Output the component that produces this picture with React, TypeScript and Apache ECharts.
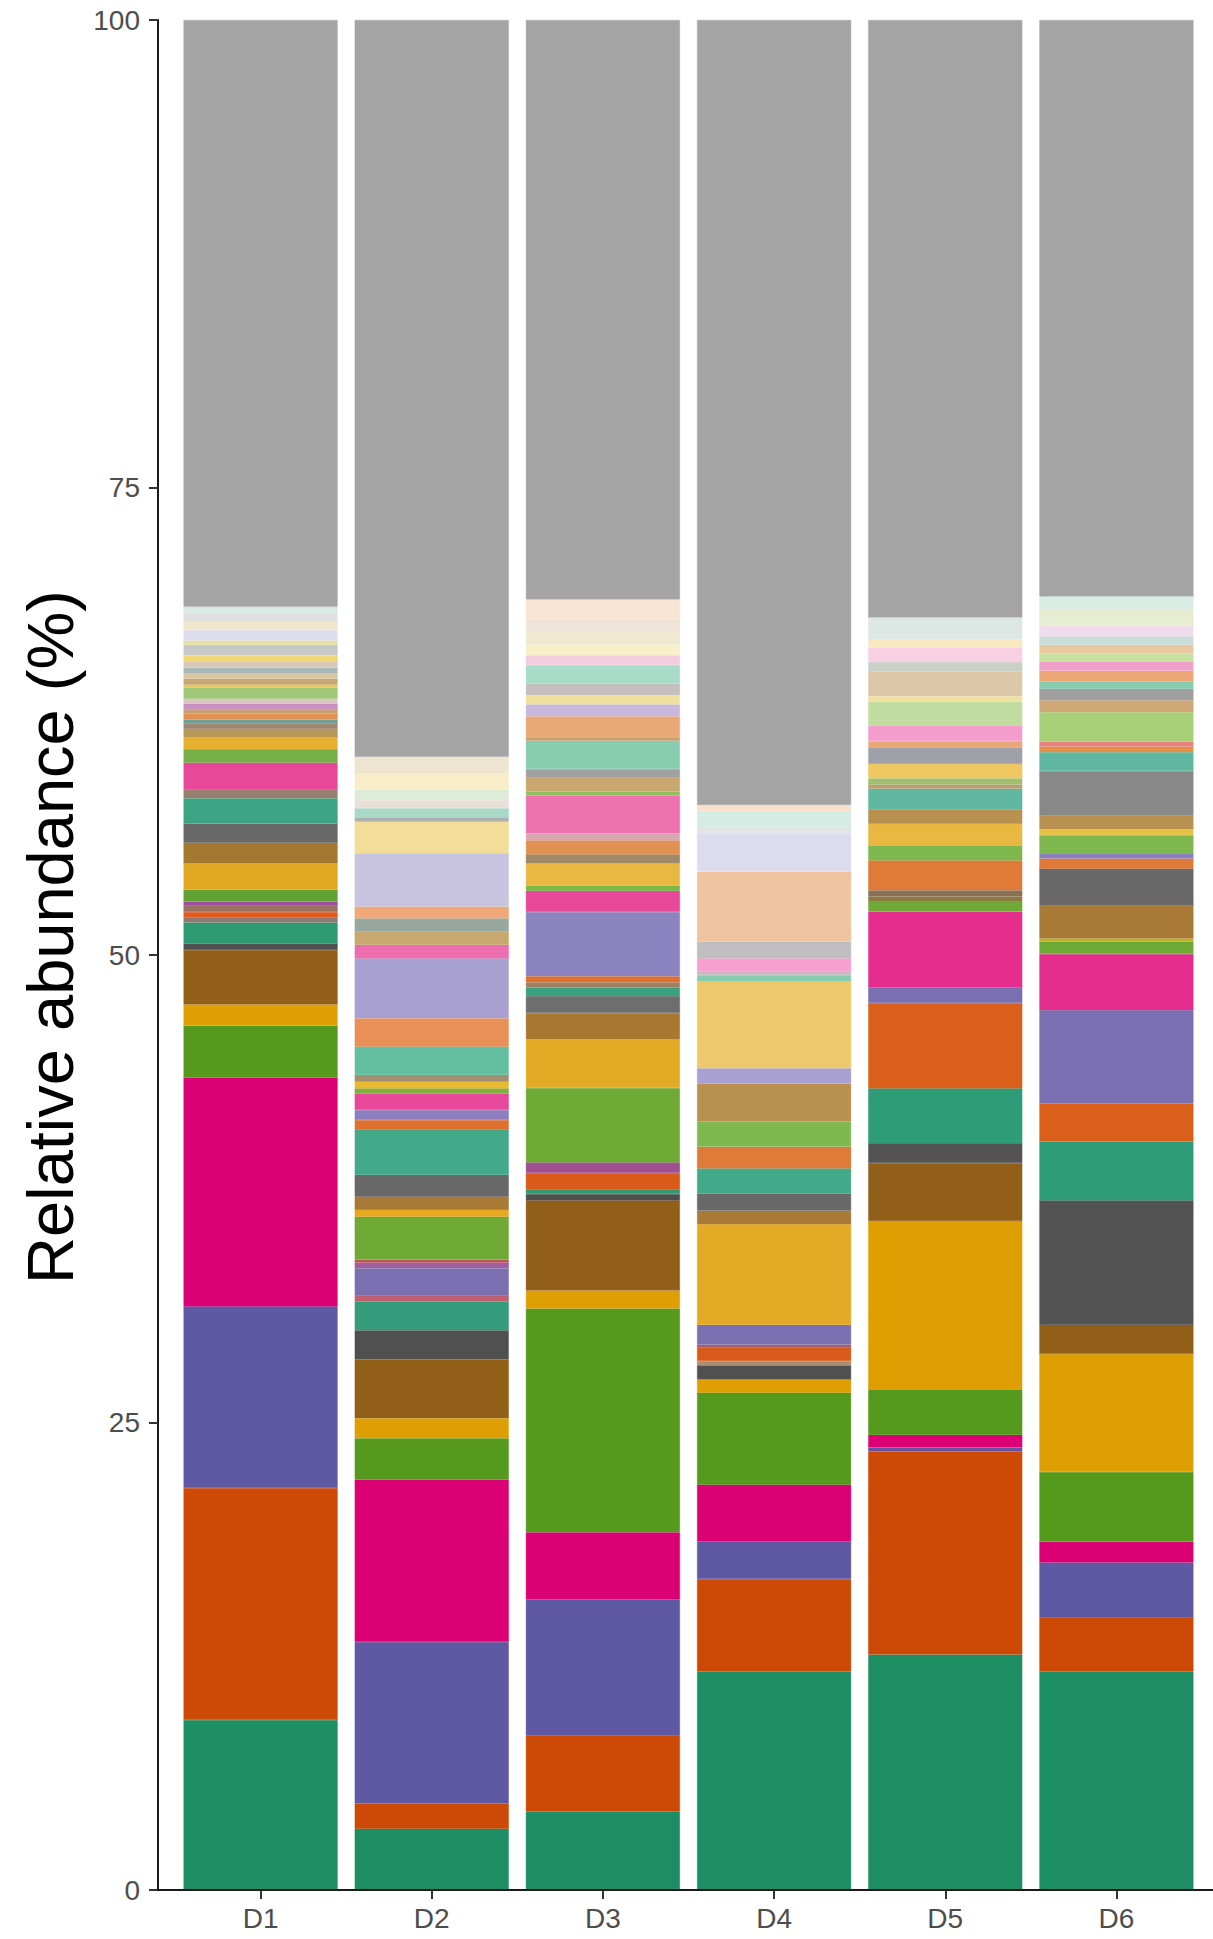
import React, { useEffect, useRef } from "react";
import * as echarts from "echarts";

const CATEGORIES = ["D1", "D2", "D3", "D4", "D5", "D6"];
const Y_TICKS = [0, 25, 50, 75, 100];
const Y_TITLE = "Relative abundance (%)";
const OTHERS = "#A4A4A4";

// Cumulative top of each stacked segment, bottom to top (percent), with its fill
const D1_TOPS = [9.09, 21.5, 31.21, 43.45, 46.22, 47.35, 50.27, 50.61, 51.74, 52.01, 52.3, 52.64, 52.86, 53.49, 54.89, 56.01, 57.03, 58.38, 58.83, 60.29, 61.01, 61.64, 62.09, 62.36, 62.59, 62.93, 63.11, 63.44, 63.71, 64.3, 64.46, 64.79, 65.06, 65.36, 65.69, 66.03, 66.59, 66.82, 67.38, 67.83, 68.28, 68.62, 100];
const D1_COLORS = ["#1D8E64", "#CC4A06", "#5F58A2", "#DC0075", "#559A1C", "#DF9F03", "#925F18", "#505050", "#2E9A72", "#907A70", "#E05A20", "#9A7060", "#A04FA0", "#62A232", "#E2A822", "#A47830", "#686868", "#3CA482", "#988070", "#E8489A", "#78B048", "#E8B030", "#B89858", "#A08870", "#70A098", "#E09050", "#C8A070", "#C890C0", "#D8C8C0", "#A0C878", "#E8C860", "#C8A878", "#D8C8A0", "#A8B8B8", "#D8C8B8", "#F0D878", "#C8C8C8", "#E8E0A0", "#DDDDEE", "#F2E6CC", "#E0E0E0", "#D9EBE3", OTHERS];

const D2_TOPS = [3.28, 4.61, 13.26, 21.95, 24.16, 25.23, 28.38, 29.93, 31.48, 31.77, 33.25, 33.54, 33.7, 36.01, 36.37, 37.08, 38.24, 40.65, 41.18, 41.71, 42.61, 42.87, 43.23, 43.59, 45.1, 46.62, 49.82, 50.54, 51.25, 51.96, 52.59, 55.44, 57.13, 57.36, 57.85, 58.29, 58.83, 59.72, 60.61, 100];
const D2_COLORS = ["#1D8E64", "#CC4A06", "#5F58A2", "#DC0075", "#559A1C", "#DF9F03", "#925F18", "#505050", "#349C7A", "#C06070", "#7A6FB0", "#A060A0", "#C05060", "#6EAA35", "#E8A820", "#A87A35", "#686868", "#42AA88", "#E07030", "#8C7EC0", "#E8489A", "#80B040", "#E8B830", "#A09070", "#62C0A0", "#E89058", "#A8A0D0", "#EC6EAE", "#C8A870", "#98A8A0", "#F0A878", "#C8C4E0", "#F2DE98", "#B0B0B0", "#A8D8C8", "#E8E0D8", "#DCEBD8", "#F8EDC8", "#EDE5D0", OTHERS];

const D3_TOPS = [4.21, 8.27, 15.52, 19.13, 31.1, 32.06, 36.88, 37.22, 37.44, 38.34, 38.91, 42.89, 45.48, 46.9, 47.8, 48.25, 48.54, 48.86, 52.3, 53.43, 53.72, 54.89, 55.38, 56.13, 56.51, 58.53, 58.76, 59.5, 59.95, 61.46, 61.64, 62.77, 63.4, 63.89, 64.52, 65.51, 66.03, 66.59, 67.27, 67.94, 69.02, 100];
const D3_COLORS = ["#1D8E64", "#CC4A06", "#5F58A2", "#DC0075", "#559A1C", "#DF9F03", "#925F18", "#505050", "#2E9A72", "#DA5A1A", "#A05090", "#6EAA35", "#E3AB25", "#A87830", "#6E6E6E", "#3AA080", "#A08060", "#E07030", "#8C84C0", "#E8489A", "#7CB848", "#E8B840", "#A08868", "#E09050", "#D8A8B0", "#EE72B0", "#90C060", "#C8A870", "#A0A0A0", "#88CCB0", "#C8A070", "#E8A878", "#C8B8E0", "#F0E0A0", "#C4C0C0", "#A8DCC8", "#F4CCE0", "#F8F0C8", "#F0E8D0", "#EEE4D8", "#F8E4D4", OTHERS];

const D4_TOPS = [11.7, 16.63, 18.62, 21.68, 26.6, 27.3, 28.06, 28.29, 28.99, 29.17, 30.22, 35.61, 36.32, 37.25, 38.59, 39.75, 41.08, 43.13, 43.94, 48.57, 48.93, 49.11, 49.82, 50.71, 54.45, 56.5, 56.86, 57.66, 58.02, 100];
const D4_COLORS = ["#1D8E64", "#CC4A06", "#5F58A2", "#DC0075", "#559A1C", "#DF9F03", "#505050", "#A89070", "#DA5A1A", "#A06070", "#7A6FB0", "#E3AB25", "#A87A35", "#686868", "#42AA88", "#E07A38", "#80B850", "#B89050", "#A8A0D0", "#EEC86C", "#88CCB0", "#C8B8C0", "#F6A0D0", "#C0BEC0", "#F0C4A0", "#DCDCEE", "#E4E4E8", "#D4ECE4", "#F8E0CC", OTHERS];

const D5_TOPS = [12.59, 23.45, 23.68, 24.34, 26.78, 35.78, 38.88, 39.94, 42.87, 47.43, 48.25, 52.31, 52.84, 53.13, 53.46, 55.06, 55.86, 57.01, 57.79, 58.89, 59.12, 59.45, 60.22, 61.11, 61.44, 62.29, 63.55, 63.84, 65.17, 65.66, 66.43, 66.87, 68.05, 100];
const D5_COLORS = ["#1D8E64", "#CC4A06", "#6A50A0", "#DC0075", "#559A1C", "#DF9F03", "#925F18", "#535353", "#2E9C76", "#D95F1A", "#7A6FB0", "#E42D8C", "#6EAA35", "#8A7A40", "#8A7055", "#E07A38", "#80B850", "#E8B840", "#B89050", "#60B8A0", "#B8A070", "#A0C070", "#F0C860", "#A0A0A8", "#E8A878", "#F49CCC", "#C0DCA0", "#F0E0A0", "#DCC8A8", "#C8D0C8", "#F8D0E4", "#F8E8C0", "#DDE8E4", OTHERS];

const D6_TOPS = [11.7, 14.59, 17.51, 18.62, 22.35, 28.66, 30.22, 36.88, 40.03, 42.06, 47.05, 50.05, 50.72, 50.88, 52.64, 54.62, 55.16, 55.45, 56.42, 56.73, 57.48, 59.84, 60.85, 61.15, 61.42, 62.99, 63.62, 64.23, 64.61, 65.2, 65.69, 66.14, 66.59, 67.04, 67.61, 68.51, 69.18, 100];
const D6_COLORS = ["#1D8E64", "#CC4A06", "#5F58A2", "#DC0075", "#559A1C", "#DF9F03", "#925F18", "#535353", "#2E9C76", "#D95F1A", "#7A6FB0", "#E42D8C", "#6EAA35", "#C0B020", "#A87A35", "#686868", "#E07A38", "#8C7EC0", "#80B850", "#E8C040", "#B89050", "#888888", "#60B8A0", "#E89048", "#E88080", "#A8D078", "#D0A878", "#A0A0A0", "#88CCB0", "#EEA878", "#F0A0C8", "#C8E0A0", "#E8C8A0", "#C8DCD8", "#F0DCEC", "#E6EDD0", "#D8ECE4", OTHERS];

const BAR_TOPS = [D1_TOPS, D2_TOPS, D3_TOPS, D4_TOPS, D5_TOPS, D6_TOPS];
const BAR_COLORS = [D1_COLORS, D2_COLORS, D3_COLORS, D4_COLORS, D5_COLORS, D6_COLORS];

function segmentHeights(tops: number[]): number[] {
  return tops.map((t, i) => +(t - (i > 0 ? tops[i - 1] : 0)).toFixed(2));
}

const FONT = "'Liberation Sans', Arial, sans-serif";
const AXIS_COLOR = "#1a1a1a";
const LABEL_COLOR = "#4D4D4D";

export default function App() {
  const ref = useRef<HTMLDivElement>(null);

  useEffect(() => {
    if (!ref.current) return;
    const chart = echarts.init(ref.current, null, { renderer: "svg" });
    const segs = BAR_TOPS.map(segmentHeights);
    const maxLen = Math.max(...segs.map((s) => s.length));
    const series: any[] = [];
    for (let i = 0; i < maxLen; i++) {
      series.push({
        type: "bar",
        stack: "total",
        barWidth: "90%",
        silent: true,
        data: segs.map((s, b) =>
          i < s.length
            ? {
                value: s[i],
                itemStyle: { color: BAR_COLORS[b][i], borderColor: BAR_COLORS[b][i], borderWidth: 0.4 },
              }
            : "-"
        ),
      });
    }

    chart.setOption({
      animation: false,
      backgroundColor: "#ffffff",
      grid: { left: 175, right: 11, top: 20, bottom: 49, containLabel: false },
      xAxis: {
        type: "category",
        data: CATEGORIES,
        z: 5,
        axisLine: { show: true, lineStyle: { color: AXIS_COLOR, width: 2 } },
        axisTick: { show: true, alignWithLabel: true, length: 9, lineStyle: { color: "#333333", width: 2 } },
        axisLabel: { color: LABEL_COLOR, fontSize: 28, fontFamily: FONT, margin: 14 },
        splitLine: { show: false },
      },
      yAxis: {
        type: "value",
        min: Y_TICKS[0],
        max: Y_TICKS[Y_TICKS.length - 1],
        interval: 25,
        offset: 17,
        z: 5,
        axisLine: { show: true, lineStyle: { color: AXIS_COLOR, width: 2 } },
        axisTick: { show: true, length: 9, lineStyle: { color: "#333333", width: 2 } },
        axisLabel: { color: LABEL_COLOR, fontSize: 28, fontFamily: FONT, margin: 18 },
        splitLine: { show: false },
      },
      graphic: [
        {
          type: "line",
          z: 10,
          shape: { x1: 157, y1: 1890, x2: 176, y2: 1890 },
          style: { stroke: AXIS_COLOR, lineWidth: 2 },
        },
        {
          type: "line",
          z: 10,
          shape: { x1: 1201, y1: 1890, x2: 1213, y2: 1890 },
          style: { stroke: AXIS_COLOR, lineWidth: 2 },
        },
        {
          type: "text",
          x: 50,
          y: 937,
          rotation: Math.PI / 2,
          style: {
            text: Y_TITLE,
            fill: "#000000",
            fontSize: 65,
            fontFamily: FONT,
            align: "center",
            verticalAlign: "middle",
          },
        },
      ],
      series,
    });

    return () => chart.dispose();
  }, []);

  return (
    <div
      ref={ref}
      style={{ position: "absolute", left: 0, top: 0, width: 1213, height: 1939 }}
    />
  );
}
